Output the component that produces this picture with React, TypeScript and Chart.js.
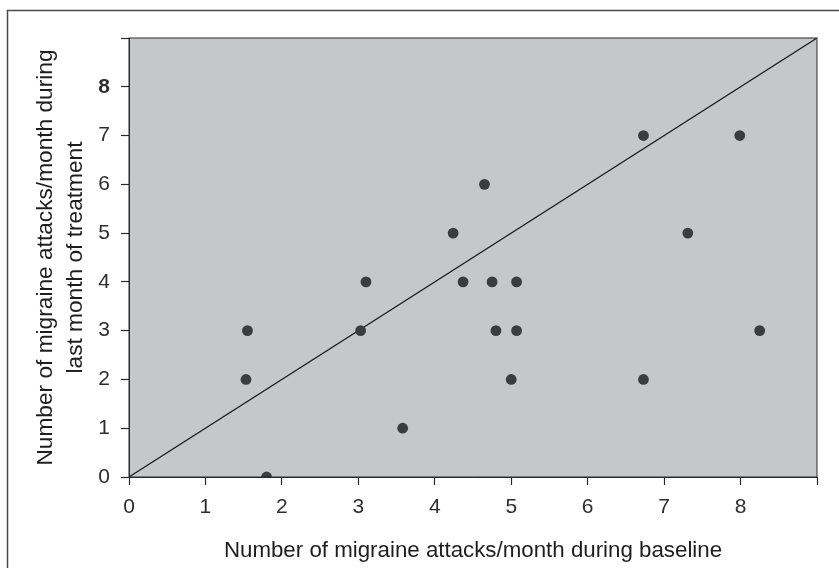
import React, { useEffect, useRef } from "react";
import { Chart, registerables } from "chart.js";

Chart.register(...registerables);

// Baseline attacks/month (x) and last-month-of-treatment attacks/month (y)
const baselineX = [1.55, 1.53, 1.8, 3.03, 3.1, 3.58, 4.24, 4.37, 4.65, 4.75, 4.8, 5.0, 5.07, 5.07, 6.73, 6.73, 7.31, 7.99, 8.25];
const treatmentY = [3, 2, 0, 3, 4, 1, 5, 4, 6, 4, 3, 2, 4, 3, 7, 2, 5, 7, 3];

// Line of identity
const identityX = [0, 9];
const identityY = [0, 9];

const xTickLabels = ["0", "1", "2", "3", "4", "5", "6", "7", "8", ""];
const yTickLabels = ["0", "1", "2", "3", "4", "5", "6", "7", "8", ""];

const xTitle = "Number of migraine attacks/month during baseline";
const yTitle = ["Number of migraine attacks/month during", "last month of treatment"];

const FONT = "'Liberation Sans', Arial, Helvetica, sans-serif";

const plotFrame = {
  id: "plotFrame",
  beforeDraw(chart: any) {
    const { ctx, chartArea: a, width, height } = chart;
    ctx.save();
    ctx.fillStyle = "#ffffff";
    ctx.fillRect(0, 0, width, height);
    ctx.fillStyle = "#c6c7c9";
    ctx.fillRect(a.left, a.top, a.right - a.left, a.bottom - a.top);
    // outer frame (top & left only)
    ctx.strokeStyle = "#4a4a4a";
    ctx.lineWidth = 1.5;
    ctx.beginPath();
    ctx.moveTo(7.5, height);
    ctx.lineTo(7.5, 10.5);
    ctx.lineTo(width, 10.5);
    ctx.stroke();
    ctx.restore();
  },
  afterDatasetsDraw(chart: any) {
    const { ctx, chartArea: a } = chart;
    ctx.save();
    ctx.strokeStyle = "#2a2a2a";
    ctx.lineWidth = 1;
    ctx.strokeRect(a.left, a.top, a.right - a.left, a.bottom - a.top);
    ctx.restore();
  },
};

export default function App() {
  const ref = useRef<HTMLCanvasElement>(null);

  useEffect(() => {
    if (!ref.current) return;
    const chart = new Chart(ref.current, {
      type: "scatter",
      data: {
        datasets: [
          {
            type: "line",
            data: identityX.map((x, i) => ({ x, y: identityY[i] })),
            borderColor: "#1a1a1a",
            borderWidth: 1.2,
            pointRadius: 0,
            fill: false,
            clip: 0,
            order: 2,
          } as any,
          {
            data: baselineX.map((x, i) => ({ x, y: treatmentY[i] })),
            backgroundColor: "#3c3c40",
            borderColor: "#3c3c40",
            borderWidth: 0,
            pointRadius: 5.4,
            clip: 0,
            order: 1,
          },
        ],
      },
      options: {
        responsive: false,
        animation: false,
        layout: { padding: { left: 7, top: 38, right: 22, bottom: 0 } },
        plugins: { legend: { display: false }, tooltip: { enabled: false }, title: { display: false } },
        scales: {
          x: {
            type: "linear",
            min: 0,
            max: 9,
            afterFit: (s: any) => {
              s.height = 91;
            },
            border: { display: true, color: "#2a2a2a", width: 1 },
            grid: { drawOnChartArea: false, drawTicks: true, tickLength: 8, color: "#2a2a2a", tickWidth: 1.2 },
            ticks: {
              stepSize: 1,
              autoSkip: false,
              maxRotation: 0,
              padding: 10,
              color: "#2e2e2e",
              font: { family: FONT, size: 21 },
              callback: (v: any) => xTickLabels[Math.round(Number(v))] ?? "",
            },
            title: {
              display: true,
              text: xTitle,
              color: "#1e1e1e",
              font: { family: FONT, size: 22.3, lineHeight: 1.2 },
              padding: { top: 0, bottom: 4 },
            },
          },
          y: {
            type: "linear",
            min: 0,
            max: 9,
            afterFit: (s: any) => {
              s.width = 122;
            },
            border: { display: true, color: "#2a2a2a", width: 1 },
            grid: { drawOnChartArea: false, drawTicks: true, tickLength: 8, color: "#2a2a2a", tickWidth: 1.2 },
            ticks: {
              stepSize: 1,
              autoSkip: false,
              padding: 11,
              color: "#2e2e2e",
              font: (c: any) => ({ family: FONT, size: 21, weight: c.tick && c.tick.value === 8 ? "bold" : "normal" }),
              callback: (v: any) => yTickLabels[Math.round(Number(v))] ?? "",
            },
            title: {
              display: true,
              text: yTitle,
              color: "#1e1e1e",
              font: { family: FONT, size: 22.7, lineHeight: 1.3 },
              padding: { top: 24, bottom: 0 },
            },
          },
        },
      },
      plugins: [plotFrame],
    });
    return () => chart.destroy();
  }, []);

  return (
    <div style={{ position: "fixed", left: 0, top: 0, width: 839, height: 568 }}>
      <canvas ref={ref} width={839} height={568} style={{ display: "block" }} />
    </div>
  );
}
